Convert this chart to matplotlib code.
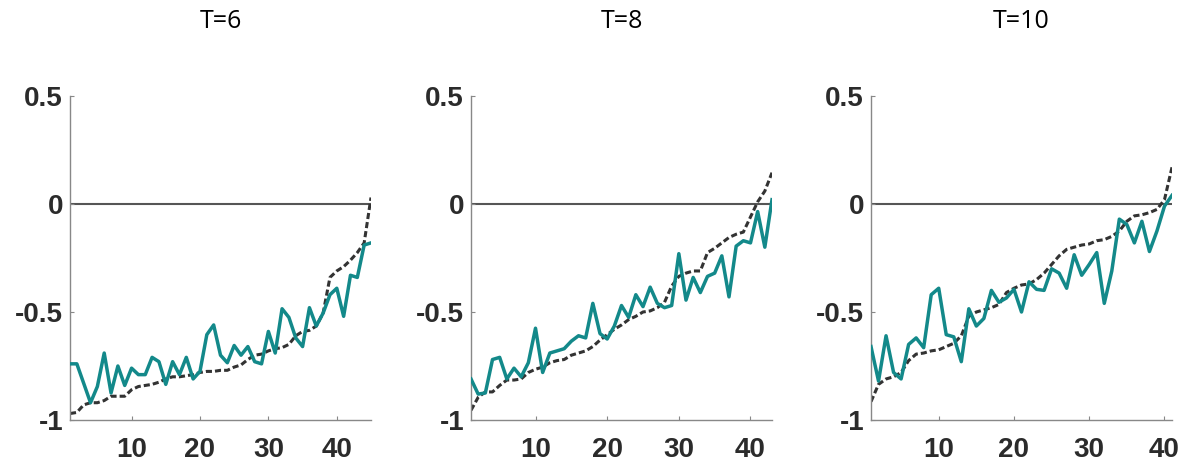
import matplotlib
matplotlib.use("Agg")
import matplotlib.pyplot as plt
import numpy as np

titles = ["T=6", "T=8", "T=10"]

teal_T6 = [-0.74, -0.74, -0.83, -0.92, -0.845, -0.69, -0.875, -0.75, -0.84, -0.76,
           -0.79, -0.79, -0.71, -0.73, -0.835, -0.73, -0.79, -0.71, -0.81, -0.775,
           -0.605, -0.56, -0.70, -0.735, -0.655, -0.70, -0.66, -0.73, -0.74, -0.59,
           -0.69, -0.485, -0.525, -0.62, -0.66, -0.48, -0.565, -0.505, -0.42, -0.39,
           -0.52, -0.33, -0.34, -0.19, -0.18]
dot_T6 = [-0.97, -0.965, -0.93, -0.92, -0.92, -0.91, -0.89, -0.89, -0.89, -0.86,
          -0.845, -0.84, -0.835, -0.825, -0.81, -0.80, -0.80, -0.795, -0.79, -0.78,
          -0.775, -0.775, -0.77, -0.77, -0.755, -0.745, -0.72, -0.70, -0.695, -0.68,
          -0.67, -0.665, -0.65, -0.61, -0.59, -0.585, -0.565, -0.505, -0.34, -0.31,
          -0.29, -0.26, -0.225, -0.18, 0.03]

teal_T8 = [-0.81, -0.88, -0.875, -0.72, -0.71, -0.81, -0.76, -0.80, -0.735, -0.575,
           -0.78, -0.69, -0.68, -0.67, -0.635, -0.61, -0.62, -0.46, -0.60, -0.625,
           -0.565, -0.47, -0.525, -0.42, -0.475, -0.385, -0.46, -0.48, -0.47, -0.23,
           -0.445, -0.34, -0.41, -0.335, -0.32, -0.24, -0.43, -0.195, -0.17, -0.18,
           -0.035, -0.20, 0.02]
dot_T8 = [-0.955, -0.895, -0.87, -0.87, -0.84, -0.815, -0.815, -0.81, -0.78, -0.765,
          -0.755, -0.735, -0.725, -0.72, -0.70, -0.69, -0.68, -0.66, -0.63, -0.605,
          -0.58, -0.56, -0.535, -0.52, -0.50, -0.495, -0.48, -0.455, -0.38, -0.335,
          -0.32, -0.31, -0.31, -0.225, -0.205, -0.18, -0.155, -0.14, -0.13, -0.06,
          0.01, 0.06, 0.145]

teal_T10 = [-0.66, -0.82, -0.61, -0.78, -0.81, -0.65, -0.62, -0.665, -0.42, -0.39,
            -0.605, -0.615, -0.73, -0.485, -0.565, -0.53, -0.40, -0.455, -0.435, -0.395,
            -0.50, -0.36, -0.395, -0.40, -0.30, -0.32, -0.39, -0.235, -0.33, -0.28,
            -0.225, -0.46, -0.31, -0.07, -0.095, -0.18, -0.08, -0.22, -0.125, -0.01,
            0.04]
dot_T10 = [-0.915, -0.835, -0.81, -0.80, -0.78, -0.725, -0.695, -0.69, -0.68, -0.675,
           -0.66, -0.645, -0.61, -0.52, -0.50, -0.49, -0.48, -0.465, -0.41, -0.39,
           -0.375, -0.37, -0.35, -0.32, -0.28, -0.24, -0.21, -0.20, -0.19, -0.185,
           -0.17, -0.165, -0.15, -0.125, -0.08, -0.055, -0.05, -0.04, -0.025, 0.02,
           0.17]

teal_series = [teal_T6, teal_T8, teal_T10]
dot_series = [dot_T6, dot_T8, dot_T10]

x_ticks = [10, 20, 30, 40]
y_ticks = [-1, -0.5, 0, 0.5]
y_ticklabels = ["-1", "-0.5", "0", "0.5"]

TEAL = "#13898a"
DOT = "#333333"
TXT = "#2b2b2b"

fig = plt.figure(figsize=(11.93, 4.69), dpi=100)
lefts = [70 / 1193, 471 / 1193, 871 / 1193]
bottom = 49 / 469
width = 301 / 1193
height = 324 / 469

for k in range(3):
    ax = fig.add_axes([lefts[k], bottom, width, height])
    t = teal_series[k]
    d = dot_series[k]
    x = np.arange(1, len(t) + 1)
    ax.axhline(0, color="#555555", lw=1.5, zorder=1)
    ax.plot(x, d, color=DOT, lw=2.2, ls=(0, (2.0, 1.0)), zorder=2)
    ax.plot(x, t, color=TEAL, lw=2.5, zorder=3)
    ax.set_xlim(1, len(t))
    ax.set_ylim(-1, 0.5)
    ax.set_xticks(x_ticks)
    ax.set_yticks(y_ticks)
    ax.set_yticklabels(y_ticklabels)
    for s in ["top", "right"]:
        ax.spines[s].set_visible(False)
    for s in ["left", "bottom"]:
        ax.spines[s].set_color("#888888")
        ax.spines[s].set_linewidth(1.0)
    ax.tick_params(axis="both", direction="in", length=3, color="#888888",
                   labelcolor=TXT)
    ax.tick_params(axis="y", pad=5)
    ax.tick_params(axis="x", pad=12)
    for lab in ax.get_xticklabels() + ax.get_yticklabels():
        lab.set_fontfamily("Liberation Sans")
        lab.set_fontweight("bold")
        lab.set_fontsize(20)
    ax.text(0.5, 1.231, titles[k], transform=ax.transAxes, ha="center",
            va="center", fontsize=18, family="Open Sans", color="#000000")

fig.savefig("out.png", dpi=100)
